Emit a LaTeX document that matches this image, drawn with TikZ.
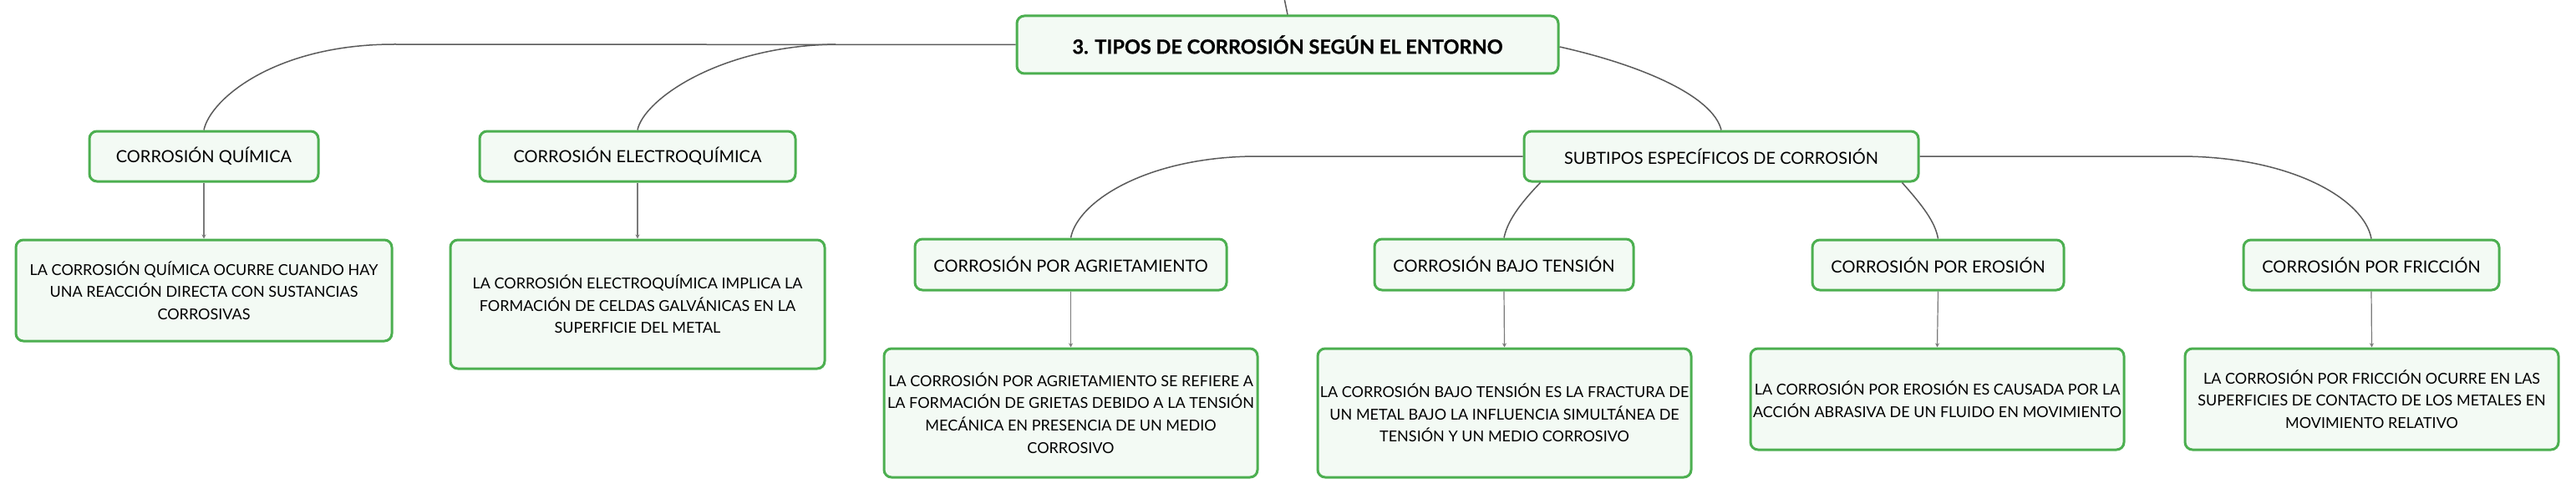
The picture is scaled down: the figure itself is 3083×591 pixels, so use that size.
\documentclass[tikz,border=0pt]{standalone}
\usepackage{fontspec}
\setmainfont{Lato}
\newfontfamily\titlefont{Lato}[BoldFeatures={FakeBold=0.7}]
\usetikzlibrary{arrows.meta}
\definecolor{boxgreen}{HTML}{4CAF50}
\definecolor{boxfill}{HTML}{F3FAF4}
\definecolor{linkgray}{HTML}{5A5A5A}
\definecolor{stemgray}{HTML}{7A7A7A}
\tikzset{
  box/.style={draw=boxgreen, line width=3pt, fill=boxfill, rounded corners=9pt,
    inner sep=0pt, align=center, text=black},
  maintitle/.style={box, font=\titlefont\fontsize{23.5}{28}\selectfont\bfseries},
  subtitle/.style={box, font=\fontsize{20}{24}\selectfont},
  descbox/.style={box, font=\fontsize{18}{26.7}\selectfont},
  link/.style={draw=linkgray, line width=1.5pt},
  stem/.style={draw=stemgray, line width=1.2pt, -{Stealth[length=5pt,width=5pt]}},
}
\begin{document}
\begin{tikzpicture}[x=1pt,y=-1pt]
\useasboundingbox[fill=white] (0,0) rectangle (3083,591);

% main
\node[maintitle, minimum width=648pt, minimum height=69pt] (main) at (1541,53.5) {3. TIPOS DE CORROSIÓN SEGÚN EL ENTORNO};

% level 1
\node[subtitle, minimum width=274pt, minimum height=60pt] (quim) at (244,187) {CORROSIÓN QUÍMICA};
\node[subtitle, minimum width=378pt, minimum height=60pt] (elec) at (763,187) {CORROSIÓN ELECTROQUÍMICA};
\node[subtitle, minimum width=472pt, minimum height=60pt] (sub) at (2060,187) {SUBTIPOS ESPECÍFICOS DE CORROSIÓN};

% descriptions level 1
\node[descbox, minimum width=450pt, minimum height=121pt] (quimd) at (244,347.5)
  {LA CORROSIÓN QUÍMICA OCURRE CUANDO HAY\\UNA REACCIÓN DIRECTA CON SUSTANCIAS\\CORROSIVAS};
\node[descbox, minimum width=448pt, minimum height=154pt] (elecd) at (763,364)
  {LA CORROSIÓN ELECTROQUÍMICA IMPLICA LA\\FORMACIÓN DE CELDAS GALVÁNICAS EN LA\\SUPERFICIE DEL METAL};

% level 2
\node[subtitle, minimum width=373pt, minimum height=61pt] (agr) at (1281.5,316.5) {CORROSIÓN POR AGRIETAMIENTO};
\node[subtitle, minimum width=310pt, minimum height=61pt] (bajo) at (1800,316.5) {CORROSIÓN BAJO TENSIÓN};
\node[subtitle, minimum width=301pt, minimum height=60pt] (ero) at (2319.5,317) {CORROSIÓN POR EROSIÓN};
\node[subtitle, minimum width=306pt, minimum height=60pt] (fric) at (2838,317) {CORROSIÓN POR FRICCIÓN};

% descriptions level 2
\node[descbox, minimum width=447pt, minimum height=154pt] (agrd) at (1281.5,494)
  {LA CORROSIÓN POR AGRIETAMIENTO SE REFIERE A\\LA FORMACIÓN DE GRIETAS DEBIDO A LA TENSIÓN\\MECÁNICA EN PRESENCIA DE UN MEDIO\\CORROSIVO};
\node[descbox, minimum width=447pt, minimum height=154pt] (bajod) at (1800.5,494)
  {LA CORROSIÓN BAJO TENSIÓN ES LA FRACTURA DE\\UN METAL BAJO LA INFLUENCIA SIMULTÁNEA DE\\TENSIÓN Y UN MEDIO CORROSIVO};
\node[descbox, minimum width=447pt, minimum height=121pt] (erod) at (2318.5,477.5)
  {LA CORROSIÓN POR EROSIÓN ES CAUSADA POR LA\\ACCIÓN ABRASIVA DE UN FLUIDO EN MOVIMIENTO};
\node[descbox, minimum width=447pt, minimum height=121pt] (fricd) at (2838.5,477.5)
  {LA CORROSIÓN POR FRICCIÓN OCURRE EN LAS\\SUPERFICIES DE CONTACTO DE LOS METALES EN\\MOVIMIENTO RELATIVO};

% helper coordinates
\coordinate (top) at (1537,-2);
\coordinate (bendq) at (472,53);
\coordinate (bende) at (1000,53);
\coordinate (bendagr) at (1505,187);
\coordinate (bendfric) at (2608,187);

% connectors
\draw[link] (main.north) -- (top);
\draw[link] (main.west) -- (bendq) .. controls (330,53) and (252,118) .. (quim.north);
\draw[link] (bende) .. controls (860,55) and (770,120) .. (elec.north);
\draw[link] (main.east |- 0,56) .. controls (1965,78) and (2050,115) .. (sub.north);
\draw[link] (sub.west) -- (bendagr) .. controls (1375,187) and (1290,240) .. (agr.north);
\draw[link] (sub.south west) ++(21,0) .. controls (1818,245) and (1804,265) .. (bajo.north);
\draw[link] (sub.south east) ++(-21,0) .. controls (2300,245) and (2316,265) .. (ero.north);
\draw[link] (sub.east) -- (bendfric) .. controls (2745,187) and (2830,240) .. (fric.north);

\draw[stem] (quim.south) -- (quimd.north);
\draw[stem] (elec.south) -- (elecd.north);
\draw[stem] (agr.south) -- (agrd.north);
\draw[stem] (bajo.south) -- (bajod.north);
\draw[stem] (ero.south) -- (erod.north);
\draw[stem] (fric.south) -- (fricd.north);
\end{tikzpicture}
\end{document}
